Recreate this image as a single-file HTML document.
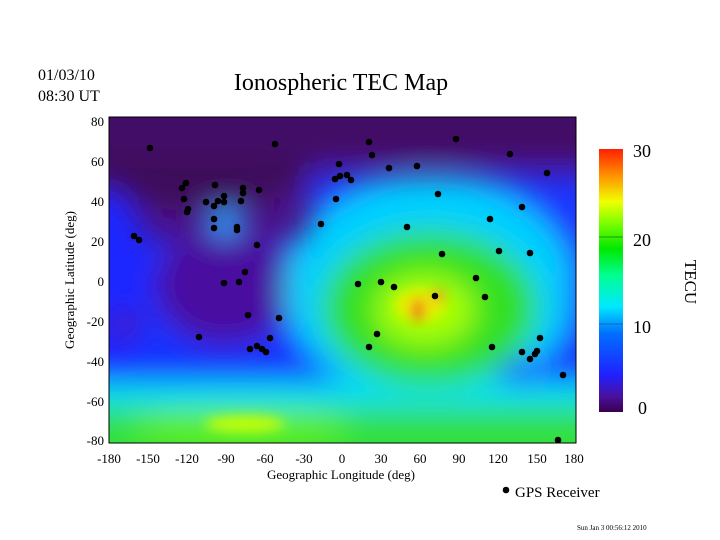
<!DOCTYPE html>
<html><head><meta charset="utf-8"><style>
html,body{margin:0;padding:0;background:#fff;width:720px;height:540px;overflow:hidden;}
svg{display:block;overflow:hidden;}
svg text{font-family:"Liberation Serif",serif;fill:#000;}
</style></head><body>
<svg width="720" height="540" viewBox="0 0 720 540" xmlns="http://www.w3.org/2000/svg">
<defs>
<clipPath id="cp"><rect x="109" y="117" width="467" height="326"/></clipPath>
<filter id="bl" filterUnits="userSpaceOnUse" x="0" y="0" width="720" height="540"><feGaussianBlur stdDeviation="14"/></filter>
<filter id="bl2" filterUnits="userSpaceOnUse" x="0" y="0" width="720" height="540"><feGaussianBlur stdDeviation="6"/></filter>
<linearGradient id="cb" x1="0" y1="1" x2="0" y2="0">
<stop offset="0" stop-color="#3a0050"/>
<stop offset="0.06" stop-color="#4a10a0"/>
<stop offset="0.14" stop-color="#2020ff"/>
<stop offset="0.3" stop-color="#0070ff"/>
<stop offset="0.4" stop-color="#00e8ff"/>
<stop offset="0.52" stop-color="#00ff90"/>
<stop offset="0.62" stop-color="#00e800"/>
<stop offset="0.72" stop-color="#80ff00"/>
<stop offset="0.8" stop-color="#f0ff00"/>
<stop offset="0.9" stop-color="#ff9000"/>
<stop offset="1" stop-color="#ff2000"/>
</linearGradient>
</defs>
<text x="38" y="80" font-size="16">01/03/10</text>
<text x="38" y="101" font-size="16">08:30 UT</text>
<text x="341" y="90" font-size="24" text-anchor="middle">Ionospheric TEC Map</text>
<g clip-path="url(#cp)">
<rect x="0" y="0" width="720" height="540" fill="#4a1088"/>
<g filter="url(#bl)">
<rect x="20" y="240" width="680" height="290" fill="#1830ff"/>
<rect x="310" y="175" width="380" height="120" fill="#1a34ff"/>
<ellipse cx="105" cy="280" rx="45" ry="90" fill="#1c28ff"/>
<ellipse cx="225" cy="285" rx="70" ry="60" fill="#4a10a0"/>
<ellipse cx="125" cy="325" rx="15" ry="12" fill="#4a10a0"/>
<ellipse cx="225" cy="220" rx="18" ry="18" fill="#20a0ff"/>
<ellipse cx="430" cy="290" rx="145" ry="112" fill="#00d0ff"/>
<rect x="20" y="382" width="680" height="150" fill="#00e0f0"/>
<ellipse cx="430" cy="308" rx="108" ry="78" fill="#30e020"/>
<rect x="20" y="408" width="680" height="124" fill="#30e040"/>
<ellipse cx="240" cy="428" rx="110" ry="18" fill="#60f010"/>
<ellipse cx="425" cy="310" rx="50" ry="36" fill="#a8ff00"/>
<ellipse cx="520" cy="372" rx="22" ry="12" fill="#2040ff"/>
<ellipse cx="585" cy="300" rx="15" ry="60" fill="#1a30ff"/>
<ellipse cx="200" cy="165" rx="110" ry="45" fill="#3c0a5a"/>
<rect x="20" y="10" width="680" height="150" fill="#420a66"/>
</g>
<g filter="url(#bl2)">
<ellipse cx="420" cy="305" rx="25" ry="16" fill="#e8f000"/>
<ellipse cx="418" cy="310" rx="7" ry="12" fill="#f07818"/>
<ellipse cx="438" cy="296" rx="7" ry="6" fill="#f09020"/>
<ellipse cx="245" cy="424" rx="40" ry="8" fill="#c8ff00"/>
</g>
</g>
<rect x="109" y="117" width="467" height="326" fill="none" stroke="#000" stroke-width="1"/>
<g fill="#000">
<circle cx="150" cy="148" r="3.3"/><circle cx="275" cy="144" r="3.3"/><circle cx="182" cy="188" r="3.3"/><circle cx="186" cy="183" r="3.3"/><circle cx="184" cy="199" r="3.3"/><circle cx="188" cy="209" r="3.3"/><circle cx="187" cy="212" r="3.3"/><circle cx="206" cy="202" r="3.3"/><circle cx="215" cy="185" r="3.3"/><circle cx="214" cy="206" r="3.3"/><circle cx="218" cy="201" r="3.3"/><circle cx="224" cy="196" r="3.3"/><circle cx="224" cy="202" r="3.3"/><circle cx="214" cy="219" r="3.3"/><circle cx="214" cy="228" r="3.3"/><circle cx="243" cy="188" r="3.3"/><circle cx="243" cy="193" r="3.3"/><circle cx="241" cy="201" r="3.3"/><circle cx="259" cy="190" r="3.3"/><circle cx="237" cy="227" r="3.3"/><circle cx="237" cy="230" r="3.3"/><circle cx="257" cy="245" r="3.3"/><circle cx="134" cy="236" r="3.3"/><circle cx="139" cy="240" r="3.3"/><circle cx="245" cy="272" r="3.3"/><circle cx="224" cy="283" r="3.3"/><circle cx="239" cy="282" r="3.3"/><circle cx="248" cy="315" r="3.3"/><circle cx="279" cy="318" r="3.3"/><circle cx="199" cy="337" r="3.3"/><circle cx="270" cy="338" r="3.3"/><circle cx="250" cy="349" r="3.3"/><circle cx="257" cy="346" r="3.3"/><circle cx="262" cy="349" r="3.3"/><circle cx="266" cy="352" r="3.3"/><circle cx="321" cy="224" r="3.3"/><circle cx="336" cy="199" r="3.3"/><circle cx="339" cy="164" r="3.3"/><circle cx="335" cy="179" r="3.3"/><circle cx="340" cy="176" r="3.3"/><circle cx="347" cy="175" r="3.3"/><circle cx="351" cy="180" r="3.3"/><circle cx="358" cy="284" r="3.3"/>
<circle cx="369" cy="142" r="3.3"/><circle cx="456" cy="139" r="3.3"/><circle cx="372" cy="155" r="3.3"/><circle cx="510" cy="154" r="3.3"/><circle cx="389" cy="168" r="3.3"/><circle cx="417" cy="166" r="3.3"/><circle cx="547" cy="173" r="3.3"/><circle cx="438" cy="194" r="3.3"/><circle cx="522" cy="207" r="3.3"/><circle cx="490" cy="219" r="3.3"/><circle cx="407" cy="227" r="3.3"/><circle cx="442" cy="254" r="3.3"/><circle cx="499" cy="251" r="3.3"/><circle cx="530" cy="253" r="3.3"/><circle cx="381" cy="282" r="3.3"/><circle cx="394" cy="287" r="3.3"/><circle cx="435" cy="296" r="3.3"/><circle cx="476" cy="278" r="3.3"/><circle cx="485" cy="297" r="3.3"/><circle cx="377" cy="334" r="3.3"/><circle cx="369" cy="347" r="3.3"/><circle cx="492" cy="347" r="3.3"/><circle cx="540" cy="338" r="3.3"/><circle cx="522" cy="352" r="3.3"/><circle cx="530" cy="359" r="3.3"/><circle cx="535" cy="354" r="3.3"/><circle cx="537" cy="351" r="3.3"/><circle cx="563" cy="375" r="3.3"/><circle cx="558" cy="440" r="3.3"/>
</g>
<g font-size="13" text-anchor="end">
<text x="104" y="126">80</text><text x="104" y="166">60</text><text x="104" y="206">40</text><text x="104" y="246">20</text><text x="104" y="286">0</text><text x="104" y="326">-20</text><text x="104" y="366">-40</text><text x="104" y="406">-60</text><text x="104" y="445">-80</text>
</g>
<g font-size="13" text-anchor="middle">
<text x="109" y="463">-180</text><text x="148" y="463">-150</text><text x="187" y="463">-120</text><text x="226" y="463">-90</text><text x="265" y="463">-60</text><text x="304" y="463">-30</text><text x="342" y="463">0</text><text x="381" y="463">30</text><text x="420" y="463">60</text><text x="459" y="463">90</text><text x="498" y="463">120</text><text x="537" y="463">150</text><text x="574" y="463">180</text>
</g>
<text x="341" y="479" font-size="13" text-anchor="middle">Geographic Longitude (deg)</text>
<text transform="translate(74,280) rotate(-90)" font-size="13" text-anchor="middle">Geographic Latitude (deg)</text>
<rect x="599" y="149" width="24" height="263" fill="url(#cb)"/>
<line x1="599" y1="237" x2="623" y2="237" stroke="#207020" stroke-width="0.7"/>
<line x1="599" y1="324" x2="623" y2="324" stroke="#2050a0" stroke-width="0.7"/>
<g font-size="18">
<text x="633" y="157">30</text><text x="633" y="246">20</text><text x="633" y="333">10</text><text x="638" y="414">0</text>
</g>
<text transform="translate(685,282) rotate(90)" font-size="17" text-anchor="middle">TECU</text>
<circle cx="506" cy="490" r="3.3" fill="#000"/>
<text x="515" y="497" font-size="15">GPS Receiver</text>
<text x="577" y="530" font-size="7" font-family="Liberation Sans,sans-serif">Sun Jan  3 00:56:12 2010</text>
</svg>
</body></html>
